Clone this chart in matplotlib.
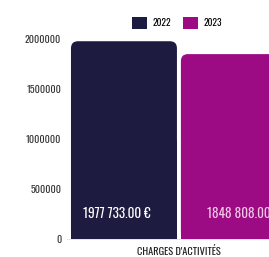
import matplotlib
matplotlib.use("Agg")
import matplotlib.pyplot as plt
from matplotlib.patches import FancyBboxPatch, Rectangle, Patch

years = ["2022", "2023"]
category = "CHARGES D'ACTIVITÉS"
values = [1977733.00, 1848808.00]
value_labels = ["1977 733.00 €", "1848 808.00 €"]
colors = ["#1d1c40", "#9c0a84"]
label_colors = ["#ffffff", "#f4c6e6"]
yticks = [0, 500000, 1000000, 1500000, 2000000]

plt.rcParams["font.family"] = ["Oswald", "DejaVu Sans"]

W, H = 269, 257
fig = plt.figure(figsize=(W / 100, H / 100), dpi=100)
# axes runs past the right edge, the second bar is cropped like in the source
ax = fig.add_axes([66.8 / W, 18 / H, 277 / W, 211 / H])
ax.set_xlim(-0.52, 2.0)
ax.set_ylim(0, 2110000)

width = 0.964
bars = ax.bar(range(len(values)), values, width=width, color=colors)

# round the top corners of each bar
px_x = 110.0            # pixels per x unit
px_y = 1e-4             # pixels per y unit
r_px = 7
for b, c in zip(bars, colors):
    x0, y0 = b.get_x(), b.get_y()
    w, h = b.get_width(), b.get_height()
    b.set_visible(False)
    fb = FancyBboxPatch((x0, y0), w, h,
                        boxstyle=f"round,pad=0,rounding_size={r_px / px_x}",
                        mutation_aspect=px_x / px_y,
                        facecolor=c, edgecolor="none", zorder=2)
    ax.add_patch(fb)
    ax.add_patch(Rectangle((x0, y0), w, h / 2, facecolor=c,
                           edgecolor="none", zorder=2))

# label offsets from bar centre, as in the source
label_dx = [-0.064, 0.09]
for i, (txt, lc) in enumerate(zip(value_labels, label_colors)):
    ax.text(i + label_dx[i], 260000, txt, ha="center", va="center", color=lc,
            fontsize=9.5, fontweight="light", zorder=3)

ax.set_yticks(yticks)
ax.set_yticklabels([str(t) for t in yticks], fontsize=7.2, fontweight="light",
                   color="#333333")
ax.set_xticks([0.5])
ax.set_xticklabels([category], fontsize=7.5, fontweight="light", color="#222222")
ax.tick_params(length=0, pad=5)
ax.tick_params(axis="y", pad=4)
for s in ["top", "right", "left"]:
    ax.spines[s].set_visible(False)
ax.spines["bottom"].set_color("#e0e0e0")
ax.spines["bottom"].set_linewidth(0.6)

handles = [Patch(facecolor=c, label=y) for c, y in zip(colors, years)]
fig.legend(handles=handles, loc="center", bbox_to_anchor=(177 / W, 1 - 23 / H),
           ncol=2, frameon=False,
           prop={"weight": "light", "size": 6.8}, handlelength=1.6,
           handleheight=1.6, handletextpad=0.6, columnspacing=1.2)

fig.savefig("out.png", dpi=100)
